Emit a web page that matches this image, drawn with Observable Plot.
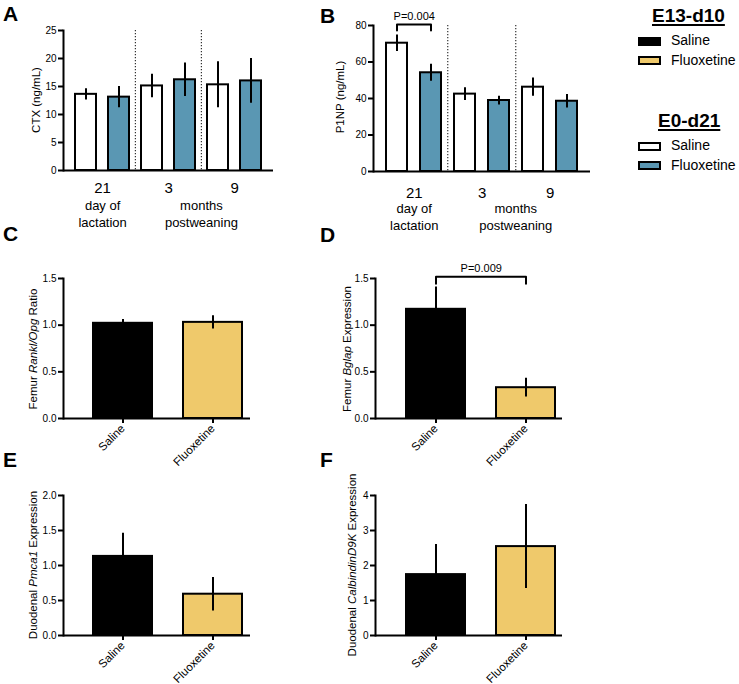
<!DOCTYPE html>
<html>
<head>
<meta charset="utf-8">
<script src="https://cdn.jsdelivr.net/npm/d3@7"></script>
<script src="https://cdn.jsdelivr.net/npm/@observablehq/plot@0.6"></script>
<style>
  body { margin: 0; background: #fff; font-family: "Liberation Sans", Arial, Helvetica, sans-serif; color: #000; }
  #root { position: relative; width: 739px; height: 684px; overflow: hidden; background: #fff; }
  .abs { position: absolute; line-height: 1; white-space: nowrap; }
  .letter { font-weight: bold; font-size: 21px; }
  .ylab { position: absolute; font-size: 11.5px; line-height: 1; white-space: nowrap; transform: translate(-50%, -50%) rotate(-90deg); }
  .lghead { font-weight: bold; font-size: 19px; text-decoration: underline; text-decoration-thickness: 2px; text-underline-offset: 2px; }
  .lgtext { font-size: 14px; }
  .sw { position: absolute; box-sizing: border-box; width: 23px; height: 9px; border: 2px solid #000; }
</style>
</head>
<body>
<div id="root"></div>
<script>
const FONT = '"Liberation Sans", Arial, Helvetica, sans-serif';
const BLUE = "#5a97b3";
const YELLOW = "#efc96b";

// ---- data ----
const timepoints = ["21", "3", "9"];
const timeSubLabels = ["day of\nlactation", "months\npostweaning"];
const treatments = ["Saline", "Fluoxetine"];

// Panel A: CTX (ng/mL), order: 21 S, 21 F, 3 S, 3 F, 9 S, 9 F
const ctxMean = [13.6, 13.1, 15.1, 16.2, 15.3, 16.0];
const ctxSem  = [1.0, 1.9, 2.1, 3.0, 4.1, 4.0];
const ctxTicks = [0, 5, 10, 15, 20, 25];

// Panel B: P1NP (ng/mL)
const p1npMean = [70.3, 54.1, 42.4, 38.9, 46.2, 38.5];
const p1npSem  = [4.5, 4.6, 3.5, 2.4, 5.0, 3.7];
const p1npTicks = [0, 20, 40, 60, 80];
const p1npSig = {time: "21", level: 80.5, drop: 3.3, label: "P=0.004"};

// Panel C: Femur Rankl/Opg ratio
const ranklMean = [1.02, 1.03];
const ranklSem  = [0.04, 0.07];
// Panel D: Femur Bglap expression
const bglapMean = [1.17, 0.33];
const bglapSem  = [0.24, 0.10];
const bglapSig = {level: 1.52, drop: 0.075, label: "P=0.009"};
const femurTicks = [0, 0.5, 1.0, 1.5];

// Panel E: Duodenal Pmca1 expression
const pmcaMean = [1.13, 0.59];
const pmcaSem  = [0.33, 0.24];
const pmcaTicks = [0, 0.5, 1.0, 1.5, 2.0];

// Panel F: Duodenal CalbindinD9K expression
const calbMean = [1.74, 2.54];
const calbSem  = [0.86, 1.20];
const calbTicks = [0, 1, 2, 3, 4];

// ---- helpers ----
const root = document.getElementById("root");
function place(node, left, top) {
  const d = document.createElement("div");
  d.style.cssText = `position:absolute;left:${left}px;top:${top}px;`;
  d.appendChild(node);
  root.appendChild(d);
}
function html(cls, content, left, top, extra = "") {
  const d = document.createElement("div");
  d.className = cls;
  d.style.cssText = `left:${left}px;top:${top}px;${extra}`;
  d.innerHTML = content;
  root.appendChild(d);
}
const svgStyle = {background: "transparent", fontFamily: FONT, overflow: "visible", maxWidth: "none"};

function timeRows(means, sems) {
  return timepoints.flatMap((t, i) => treatments.map((trt, j) => ({
    key: t + " " + trt, time: t, trt, mean: means[i * 2 + j], sem: sems[i * 2 + j]
  })));
}

function timePanel({rows, ticks, yMax, w, h, ml, mr, mt, mb, xr, padIn, numDy, subDy, sig}) {
  const step = (xr[1] - xr[0]) / rows.length;
  const firsts = rows.filter(d => d.trt === "Saline");
  const seps = firsts.slice(1);
  const marks = [
    Plot.barY(rows, {x: "key", y: "mean", fill: "trt", stroke: "black", strokeWidth: 2}),
    Plot.ruleX(rows, {x: "key", y1: d => d.mean - d.sem, y2: d => d.mean + d.sem, stroke: "black", strokeWidth: 2}),
    Plot.ruleX(seps, {x: "key", dx: -step / 2, stroke: "#333", strokeWidth: 1.2, strokeDasharray: "1.2 1.8"}),
    Plot.frame({anchor: "left", stroke: "black", strokeWidth: 2}),
    Plot.ruleY([0], {stroke: "black", strokeWidth: 2}),
    Plot.axisY({ticks, tickSize: 5, tickPadding: 2, fontSize: 10, strokeWidth: 2, tickFormat: "d", label: null}),
    Plot.text(firsts, {x: "key", text: "time", dx: step / 2, frameAnchor: "bottom", dy: numDy, lineAnchor: "bottom", fontSize: 15}),
    Plot.text([timeSubLabels[0]], {x: () => firsts[0].key, text: d => d, dx: step / 2, frameAnchor: "bottom", dy: subDy, lineAnchor: "bottom", lineHeight: 1.27, fontSize: 13}),
    Plot.text([timeSubLabels[1]], {x: () => firsts[2].key, text: d => d, dx: -step / 2, frameAnchor: "bottom", dy: subDy, lineAnchor: "bottom", lineHeight: 1.27, fontSize: 13})
  ];
  if (sig) {
    const ka = sig.time + " " + treatments[0], kb = sig.time + " " + treatments[1];
    const pts = [
      {x: ka, y: sig.level - sig.drop}, {x: ka, y: sig.level},
      {x: kb, y: sig.level}, {x: kb, y: sig.level - sig.drop}
    ];
    marks.push(Plot.line(pts, {x: "x", y: "y", stroke: "black", strokeWidth: 2}));
    marks.push(Plot.text([sig], {x: () => ka, y: "level", text: "label", dx: step / 2, dy: -5, lineAnchor: "bottom", fontSize: 11}));
  }
  return Plot.plot({
    width: w, height: h, marginLeft: ml, marginRight: mr, marginTop: mt, marginBottom: mb,
    style: svgStyle,
    x: {type: "band", domain: rows.map(d => d.key), range: xr, paddingInner: padIn, paddingOuter: padIn / 2, axis: null, label: null},
    y: {domain: [0, yMax], label: null},
    color: {domain: treatments, range: ["#ffffff", BLUE]},
    marks
  });
}

function simplePanel({means, sems, ticks, fmt, w, h, ml, mr, mt, mb, xr, padIn, sig}) {
  const rows = treatments.map((trt, i) => ({trt, mean: means[i], sem: sems[i]}));
  const step = (xr[1] - xr[0]) / rows.length;
  const marks = [
    Plot.barY(rows, {x: "trt", y: "mean", fill: "trt", stroke: "black", strokeWidth: 2}),
    Plot.ruleX(rows, {x: "trt", y1: d => d.mean - d.sem, y2: d => d.mean + d.sem, stroke: "black", strokeWidth: 2}),
    Plot.frame({anchor: "left", stroke: "black", strokeWidth: 2}),
    Plot.ruleY([0], {stroke: "black", strokeWidth: 2}),
    Plot.axisY({ticks, tickSize: 5, tickPadding: 2, fontSize: 10, strokeWidth: 2, tickFormat: fmt, label: null}),
    Plot.axisX({tickRotate: -45, tickSize: 5, tickPadding: 3, fontSize: 11.5, strokeWidth: 2, label: null})
  ];
  if (sig) {
    const pts = [
      {x: treatments[0], y: sig.level - sig.drop}, {x: treatments[0], y: sig.level},
      {x: treatments[1], y: sig.level}, {x: treatments[1], y: sig.level - sig.drop}
    ];
    marks.push(Plot.line(pts, {x: "x", y: "y", stroke: "black", strokeWidth: 2}));
    marks.push(Plot.text([sig], {x: () => treatments[0], y: "level", text: "label", dx: step / 2, dy: -5, lineAnchor: "bottom", fontSize: 11}));
  }
  return Plot.plot({
    width: w, height: h, marginLeft: ml, marginRight: mr, marginTop: mt, marginBottom: mb,
    style: svgStyle,
    x: {type: "band", domain: treatments, range: xr, paddingInner: padIn, paddingOuter: padIn / 2, label: null},
    y: {domain: [ticks[0], ticks[ticks.length - 1]], label: null},
    color: {domain: treatments, range: ["#000000", YELLOW]},
    marks
  });
}

// ---- Panels ----
place(timePanel({rows: timeRows(ctxMean, ctxSem), ticks: ctxTicks, yMax: 25,
  w: 285, h: 235, ml: 63, mr: 12, mt: 30, mb: 65, xr: [67.9, 267.1], padIn: 0.367, numDy: 22.7, subDy: 56}), 0, 0);

place(timePanel({rows: timeRows(p1npMean, p1npSem), ticks: p1npTicks, yMax: 80,
  w: 310, h: 235, ml: 83, mr: 10, mt: 25, mb: 64, xr: [87.75, 294.75], padIn: 0.377, numDy: 26, subDy: 58, sig: p1npSig}), 290, 0);

place(simplePanel({means: ranklMean, sems: ranklSem, ticks: femurTicks, fmt: ".1f",
  w: 262, h: 222, ml: 63, mr: 12, mt: 28, mb: 54, xr: [77.5, 257.5], padIn: 0.344}), 0, 250);

place(simplePanel({means: bglapMean, sems: bglapSem, ticks: femurTicks, fmt: ".1f",
  w: 280, h: 222, ml: 85, mr: 8, mt: 28, mb: 54, xr: [99.75, 280.75], padIn: 0.348, sig: bglapSig}), 290, 250);

place(simplePanel({means: pmcaMean, sems: pmcaSem, ticks: pmcaTicks, fmt: ".1f",
  w: 262, h: 214, ml: 63, mr: 12, mt: 25, mb: 49, xr: [77.5, 257.5], padIn: 0.344}), 0, 470);

place(simplePanel({means: calbMean, sems: calbSem, ticks: calbTicks, fmt: "d",
  w: 280, h: 214, ml: 85, mr: 8, mt: 25, mb: 49, xr: [99.75, 280.75], padIn: 0.348}), 290, 470);

// ---- panel letters ----
html("abs letter", "A", 3, 3);
html("abs letter", "B", 320, 5);
html("abs letter", "C", 3, 223);
html("abs letter", "D", 320, 224);
html("abs letter", "E", 3, 449);
html("abs letter", "F", 320, 449);

// ---- y-axis titles ----
html("ylab", "CTX (ng/mL)", 37, 100);
html("ylab", "P1NP (ng/mL)", 341, 97);
html("ylab", "Femur <i>Rankl/Opg</i> Ratio", 34, 349);
html("ylab", "Femur <i>Bglap</i> Expression", 348, 349);
html("ylab", "Duodenal <i>Pmca1</i> Expression", 34, 565);
html("ylab", "Duodenal <i>CalbindinD9K</i> Expression", 353, 565);

// ---- legend ----
const legendGroups = [
  {title: "E13-d10", colors: ["#000000", YELLOW], top: 6},
  {title: "E0-d21", colors: ["#ffffff", BLUE], top: 111}
];
legendGroups.forEach((g, gi) => {
  html("abs lghead", g.title, gi === 0 ? 652 : 658, g.top);
  treatments.forEach((t, i) => {
    const sw = document.createElement("div");
    sw.className = "sw";
    sw.style.left = "638px";
    sw.style.top = (g.top + 31 + i * 19) + "px";
    sw.style.background = g.colors[i];
    root.appendChild(sw);
    html("abs lgtext", t, 671, g.top + 27 + i * 20);
  });
});
</script>
</body>
</html>
